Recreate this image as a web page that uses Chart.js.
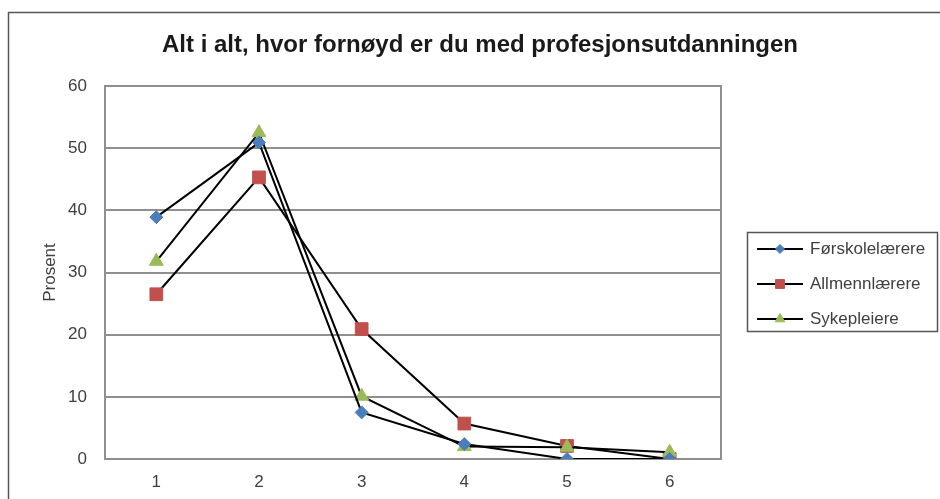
<!DOCTYPE html>
<html>
<head>
<meta charset="utf-8">
<script src="https://cdn.jsdelivr.net/npm/chart.js@4/dist/chart.umd.min.js"></script>
<style>
  body { margin: 0; background: #fff; }
  canvas { display: block; }
</style>
</head>
<body>
<canvas id="chart" width="940" height="499"></canvas>
<script>
const categories = ["1", "2", "3", "4", "5", "6"];
const seriesNames = ["Førskolelærere", "Allmennlærere", "Sykepleiere"];
const forskole = [38.9, 50.9, 7.5, 2.4, 0, 0];
const allmenn = [26.5, 45.3, 20.9, 5.7, 2.1, 0];
const sykepleie = [31.8, 52.5, 10.1, 2.0, 1.9, 1.1];
const yTicks = [0, 10, 20, 30, 40, 50, 60];

const chartTitle = "Alt i alt, hvor fornøyd er du med profesjonsutdanningen";
const yTitle = "Prosent";

const FONT = "'Liberation Sans', Arial, sans-serif";
const textColor = "#404040";
const gridColor = "#8f8f8f";

const markerStyles = [
  { style: "rectRot", color: "#4a7ebb", radius: 6.5 },
  { style: "rect", color: "#c0504d", radius: 9 },
  { style: "triangle", color: "#9bbb59", radius: 8 }
];

function makeDataset(i, values, order) {
  const m = markerStyles[i];
  return {
    label: seriesNames[i],
    data: values,
    order: order,
    borderColor: "#000",
    borderWidth: 2,
    tension: 0,
    pointStyle: m.style,
    pointRadius: m.radius,
    pointHoverRadius: m.radius,
    pointBackgroundColor: m.color,
    pointBorderColor: m.color,
    pointBorderWidth: 1
  };
}

// frame round the plot area, drawn under the lines
const plotFrame = {
  id: "plotFrame",
  beforeDatasetsDraw(chart) {
    const { ctx, chartArea: a } = chart;
    ctx.save();
    ctx.strokeStyle = gridColor;
    ctx.lineWidth = 2;
    ctx.strokeRect(a.left, a.top, a.right - a.left, a.bottom - a.top);
    ctx.restore();
  }
};

// title, legend box and the outer border
const extras = {
  id: "extras",
  afterDraw(chart) {
    const ctx = chart.ctx;
    ctx.save();

    ctx.strokeStyle = "#555";
    ctx.lineWidth = 1.5;
    ctx.strokeRect(8.5, 12.5, 1000, 1000);

    ctx.fillStyle = "#1a1a1a";
    ctx.font = "bold 24px " + FONT;
    ctx.textAlign = "center";
    ctx.textBaseline = "middle";
    ctx.fillText(chartTitle, 480, 45);

    ctx.strokeStyle = "#555";
    ctx.lineWidth = 1.5;
    ctx.strokeRect(747.5, 232.5, 190, 99);

    ctx.font = "17px " + FONT;
    ctx.textAlign = "left";
    chart.data.datasets.forEach((ds, i) => {
      const y = 249 + i * 35;
      ctx.strokeStyle = "#000";
      ctx.lineWidth = 2;
      ctx.beginPath();
      ctx.moveTo(757, y);
      ctx.lineTo(803, y);
      ctx.stroke();
      const m = markerStyles[i];
      ctx.fillStyle = m.color;
      ctx.strokeStyle = m.color;
      ctx.lineWidth = 1;
      Chart.helpers.drawPoint(ctx, { pointStyle: m.style, radius: m.radius * 0.7, rotation: 0, borderWidth: 1 }, 780, y);
      ctx.fillStyle = textColor;
      ctx.fillText(ds.label, 810, y);
    });

    ctx.restore();
  }
};

new Chart(document.getElementById("chart"), {
  type: "line",
  data: {
    labels: categories,
    datasets: [
      makeDataset(0, forskole, 0),
      makeDataset(1, allmenn, 2),
      makeDataset(2, sykepleie, 1)
    ]
  },
  options: {
    responsive: false,
    animation: false,
    layout: { padding: { top: 86, right: 219, bottom: 0, left: 0 } },
    plugins: {
      legend: { display: false },
      title: { display: false },
      tooltip: { enabled: false }
    },
    scales: {
      x: {
        offset: true,
        grid: { display: false, drawTicks: false },
        border: { display: true, color: gridColor, width: 2 },
        ticks: { color: textColor, font: { family: FONT, size: 17 }, padding: 13 },
        afterFit(scale) { scale.height = 40; }
      },
      y: {
        min: 0,
        max: 60,
        afterBuildTicks(scale) { scale.ticks = yTicks.map(v => ({ value: v })); },
        grid: { color: gridColor, lineWidth: 2, drawTicks: false },
        border: { display: true, color: gridColor, width: 2 },
        ticks: { color: textColor, font: { family: FONT, size: 17 }, padding: 18 },
        title: {
          display: true,
          text: yTitle,
          color: textColor,
          font: { family: FONT, size: 17 },
          padding: { top: 40, bottom: 0 }
        },
        afterFit(scale) { scale.width = 105; }
      }
    }
  },
  plugins: [plotFrame, extras]
});
</script>
</body>
</html>
